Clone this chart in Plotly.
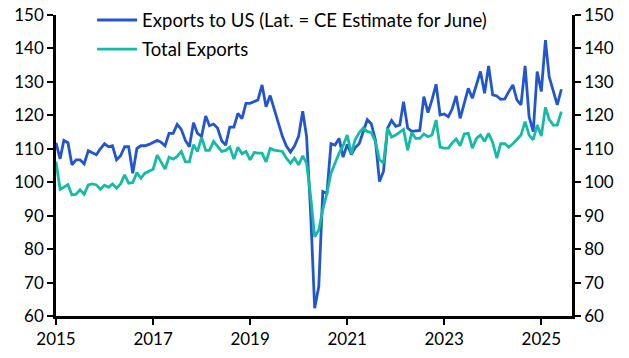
import pandas as pd
import plotly.graph_objects as go

dates = pd.date_range("2015-01-01", periods=126, freq="MS")

exports_us = [
    111.8, 107.0, 112.5, 111.8, 105.2, 106.7, 106.7, 105.5, 109.4, 108.8, 108.2, 110.0,
    111.5, 110.6, 110.9, 106.7, 107.9, 110.6, 110.6, 102.7, 110.1, 110.9, 110.9, 111.3,
    112.0, 112.5, 112.0, 110.9, 114.6, 114.6, 117.3, 115.8, 112.5, 110.6, 117.8, 114.6,
    113.7, 119.8, 116.9, 117.4, 116.2, 112.4, 111.1, 116.5, 116.5, 120.6, 119.0, 123.6,
    123.6, 124.1, 124.6, 129.1, 122.6, 125.9, 121.7, 117.7, 113.7, 110.8, 109.0, 110.8,
    113.7, 121.2, 113.7, 90.7, 62.3, 68.8, 97.2, 96.7, 111.5, 111.1, 113.1, 107.5,
    111.3, 108.3, 110.3, 111.5, 115.1, 118.7, 117.5, 112.7, 100.2, 103.2, 116.2, 118.5,
    116.7, 117.1, 124.1, 116.2, 115.2, 115.3, 115.5, 125.6, 120.8, 124.6, 129.3, 120.1,
    120.4, 119.6, 121.8, 125.8, 119.1, 123.6, 128.1, 125.1, 129.1, 133.1, 126.6, 134.8,
    126.1, 125.8, 124.8, 124.9, 127.1, 129.1, 124.6, 123.1, 134.8, 119.6, 115.1, 133.1,
    127.1, 142.5, 131.6, 127.6, 123.1, 127.8,
]

total_exports = [
    106.1, 97.9, 98.5, 99.3, 96.2, 96.4, 97.7, 96.4, 99.2, 99.5, 99.2, 97.9,
    99.1, 98.5, 99.5, 98.2, 99.5, 102.2, 99.7, 99.9, 102.9, 101.2, 102.7, 103.2,
    103.9, 108.1, 105.9, 103.9, 107.5, 106.9, 107.7, 109.2, 106.1, 106.1, 111.2, 109.2,
    113.4, 109.5, 109.5, 112.2, 110.7, 109.2, 109.5, 110.5, 106.9, 110.5, 108.5, 109.2,
    106.7, 108.9, 108.7, 108.7, 106.1, 110.1, 109.6, 109.4, 109.2, 107.2, 105.7, 107.2,
    105.2, 107.9, 105.7, 95.7, 83.7, 85.7, 91.7, 96.7, 102.7, 105.7, 108.7, 110.9,
    114.1, 108.5, 112.7, 114.8, 116.2, 115.2, 114.8, 112.2, 106.7, 105.7, 116.2, 113.5,
    114.1, 115.0, 115.8, 109.6, 114.8, 113.1, 113.1, 114.4, 113.6, 114.1, 118.6, 110.5,
    110.2, 110.2, 111.7, 112.9, 110.9, 114.4, 114.6, 110.2, 113.1, 114.1, 112.2, 114.6,
    111.9, 107.2, 111.5, 111.5, 110.5, 111.5, 112.9, 114.1, 118.1, 114.1, 112.7, 117.1,
    113.8, 122.4, 118.8, 117.1, 117.1, 121.1,
]

series_names = ["Exports to US (Lat. = CE Estimate for June)", "Total Exports"]
x_ticks = ["2015-01-01", "2017-01-01", "2019-01-01", "2021-01-01", "2023-01-01", "2025-01-01"]
x_tick_labels = ["2015", "2017", "2019", "2021", "2023", "2025"]
y_ticks = list(range(60, 151, 10))

BLUE = "#2156d0"
TEAL = "#14bba5"
FONT = "Lato"

fig = go.Figure()
fig.add_trace(go.Scatter(x=dates, y=exports_us, name=series_names[0], mode="lines",
                         legendgroup="a",
                         line=dict(color=BLUE, width=2.8), yaxis="y"))
fig.add_trace(go.Scatter(x=dates, y=total_exports, name=series_names[1], mode="lines",
                         legendgroup="b",
                         line=dict(color=TEAL, width=2.8), yaxis="y2"))

axis_common = dict(
    range=[60, 150], tickvals=y_ticks, ticks="outside", ticklen=6, tickwidth=2,
    tickcolor="black", showline=True, linecolor="black", linewidth=2.5,
    showgrid=False, zeroline=False, automargin=False,
    tickfont=dict(family=FONT, size=17, color="black"),
)

fig.update_layout(
    width=629, height=358,
    margin=dict(l=56, r=57, t=15, b=42, autoexpand=False),
    paper_bgcolor="white", plot_bgcolor="white",
    font=dict(family=FONT, color="black"),
    xaxis=dict(
        type="date", range=["2015-01-01", "2025-08-20"],
        tickvals=x_ticks, ticktext=x_tick_labels,
        ticks="outside", ticklen=6, tickwidth=2, tickcolor="black",
        showline=True, linecolor="black", linewidth=2.5,
        showgrid=False, zeroline=False, automargin=False,
        tickfont=dict(family=FONT, size=17, color="black"),
    ),
    yaxis=dict(side="left", **axis_common),
    yaxis2=dict(side="right", overlaying="y", anchor="x", **axis_common),
    legend=dict(
        x=0.07, y=1.045, xanchor="left", yanchor="top",
        bgcolor="rgba(0,0,0,0)", borderwidth=0,
        font=dict(family=FONT, size=18.5, color="black"),
        itemwidth=40, tracegroupgap=2, traceorder="grouped",
    ),
    showlegend=True,
)

fig.write_html("out.html", config={"displayModeBar": False},
               post_script="document.body.style.margin='0';")
